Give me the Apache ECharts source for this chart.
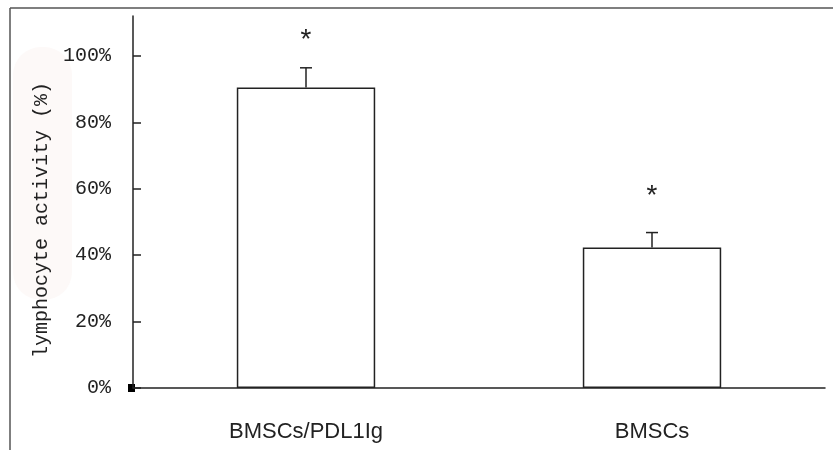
<!DOCTYPE html>
<html>
<head>
<meta charset="utf-8">
<script src="https://cdn.jsdelivr.net/npm/echarts@6/dist/echarts.min.js"></script>
<style>
  html, body { margin: 0; padding: 0; background: #fff; }
  #main { width: 833px; height: 450px; }
</style>
</head>
<body>
<div id="main"></div>
<script>
// data
const categories = ['BMSCs/PDL1Ig', 'BMSCs']
const activity = [90.5, 42.3]      // bar height, %
const errorTop = [96.4, 46.8]      // mean + SD, %
const starLevel = [106.2, 59.2]    // where the significance mark sits, %
const yTicks = [0, 20, 40, 60, 80, 100]

const INK = '#222'
const GRID_LEFT = 133
const GRID_BOTTOM = 62

const chart = echarts.init(document.getElementById('main'))

function renderErr(params, api) {
  const base = api.coord([api.value(0), api.value(1)])
  const top = api.coord([api.value(0), api.value(2)])
  const star = api.coord([api.value(0), api.value(3)])
  const st = { stroke: INK, lineWidth: 1.5 }
  return {
    type: 'group',
    children: [
      { type: 'line', shape: { x1: base[0], y1: base[1], x2: top[0], y2: top[1] }, style: st },
      { type: 'line', shape: { x1: top[0] - 6, y1: top[1], x2: top[0] + 6, y2: top[1] }, style: st },
      {
        // the '*' glyph sits high in its box, nudge it down to the read level
        type: 'text', x: star[0], y: star[1] + 6,
        style: { text: '*', fill: INK, fontSize: 28, fontFamily: 'Liberation Mono', align: 'center', verticalAlign: 'middle' }
      }
    ]
  }
}

chart.setOption({
  animation: false,
  backgroundColor: '#fff',
  grid: { left: GRID_LEFT, right: 8, top: 16, bottom: GRID_BOTTOM },
  xAxis: {
    type: 'category',
    data: categories,
    axisLine: { lineStyle: { color: INK, width: 1.5 } },
    axisTick: { inside: true, length: 6, lineStyle: { color: INK, width: 1.5 } },
    axisLabel: { color: INK, fontFamily: 'Liberation Sans', fontSize: 22, margin: 33 }
  },
  yAxis: {
    type: 'value',
    min: 0,
    max: 112,
    interval: 20,
    splitLine: { show: false },
    axisLine: { show: true, lineStyle: { color: INK, width: 1.5 } },
    axisTick: { show: true, inside: true, length: 8, customValues: yTicks, lineStyle: { color: INK, width: 1.5 } },
    axisLabel: {
      customValues: yTicks,
      formatter: '{value}%',
      color: INK,
      fontFamily: 'Liberation Mono',
      fontSize: 20,
      margin: 22
    }
  },
  graphic: [
    // faint smudge behind the axis title
    { type: 'rect', left: 13, top: 47, z: -1, shape: { width: 59, height: 253, r: 28 }, style: { fill: '#fdf9f8' } },
    // frame of the scanned figure
    { type: 'line', shape: { x1: 10, y1: 8, x2: 833, y2: 8 }, style: { stroke: '#555', lineWidth: 1.5 } },
    { type: 'line', shape: { x1: 10, y1: 8, x2: 10, y2: 450 }, style: { stroke: '#555', lineWidth: 1.5 } },
    {
      type: 'text', x: 42, y: 220, rotation: Math.PI / 2,
      style: { text: 'lymphocyte activity (%)', fill: INK, fontSize: 20, fontFamily: 'Liberation Mono', align: 'center', verticalAlign: 'middle' }
    },
    // little origin marker
    { type: 'rect', x: GRID_LEFT - 5, y: 450 - GRID_BOTTOM - 4, shape: { width: 7, height: 8 }, style: { fill: '#000' } }
  ],
  series: [
    {
      type: 'bar',
      data: activity,
      barWidth: '40%',
      itemStyle: { color: '#fff', borderColor: INK, borderWidth: 1.5 }
    },
    {
      type: 'custom',
      renderItem: renderErr,
      encode: { x: 0, y: 2 },
      data: categories.map((c, i) => [i, activity[i], errorTop[i], starLevel[i]]),
      z: 3
    }
  ]
})
</script>
</body>
</html>
